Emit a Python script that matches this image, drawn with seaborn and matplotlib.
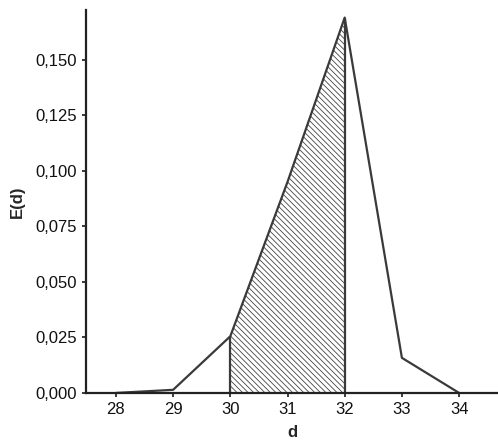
import matplotlib
matplotlib.use("Agg")
import matplotlib.pyplot as plt
import seaborn as sns
import pandas as pd

# Data
d_values = [28, 29, 30, 31, 32, 33, 34]
e_values = [0.0, 0.0014, 0.0255, 0.095, 0.169, 0.0158, 0.0]
shade_from, shade_to = 30, 32

y_ticks = [0.0, 0.025, 0.05, 0.075, 0.1, 0.125, 0.15]

sns.set_theme(style="ticks")
plt.rcParams["font.family"] = ["Liberation Sans", "DejaVu Sans"]
plt.rcParams["hatch.linewidth"] = 0.6

df = pd.DataFrame({"d": d_values, "E": e_values})

fig, ax = plt.subplots(figsize=(4.98, 4.45), dpi=100)
line_col = "#3a3a3a"

sns.lineplot(data=df, x="d", y="E", ax=ax, color=line_col, linewidth=1.6)

# shaded region between 30 and 32
part = df[(df["d"] >= shade_from) & (df["d"] <= shade_to)]
ax.fill_between(part["d"], 0, part["E"], facecolor="white", edgecolor="#444444",
                hatch="\\" * 6, linewidth=0)
for xv in (shade_from, shade_to):
    ax.vlines(xv, 0, df.loc[df["d"] == xv, "E"].iloc[0], color=line_col, linewidth=1.6)

ax.set_xlim(27.48, 34.68)
ax.set_ylim(0, 0.1725)
ax.set_xticks(d_values)
ax.set_yticks(y_ticks)
ax.set_yticklabels([f"{v:.3f}".replace(".", ",") for v in y_ticks])
ax.set_xlabel("d", fontsize=12, fontweight="bold", labelpad=6)
ax.set_ylabel("E(d)", fontsize=12, fontweight="bold", labelpad=8)
ax.tick_params(labelsize=12, length=3, color="#222222", labelcolor="#111111")

sns.despine(ax=ax, top=True, right=True)
for side in ("left", "bottom"):
    ax.spines[side].set_color("#222222")
    ax.spines[side].set_linewidth(1.6)

fig.subplots_adjust(left=0.173, right=1.0, bottom=0.117, top=0.978)
fig.savefig("out.png", dpi=100)
